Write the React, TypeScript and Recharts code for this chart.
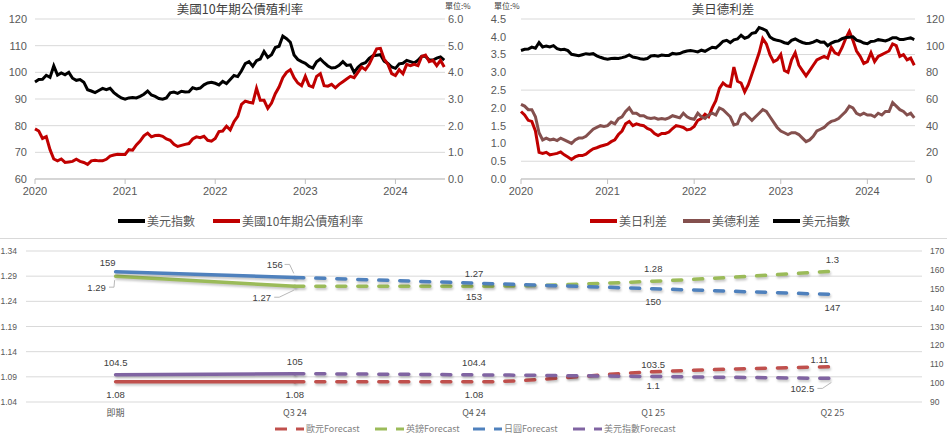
import React from "react";
import { LineChart, Line, XAxis, YAxis, CartesianGrid } from "recharts";

// half-month samples, Jan 2020 .. Jul 2024
const dxy = [
  96.4, 97.3, 97.4, 98.9, 98.1, 102.4, 99.0, 99.8, 99.1, 100.0, 97.8, 97.0, 97.3, 96.3, 93.5, 93.0, 92.4, 93.2, 94.0, 93.5, 94.0, 92.4, 91.3, 90.4,
  89.9, 90.4, 90.6, 90.4, 91.0, 91.8, 93.0, 91.5, 91.0, 90.2, 89.9, 90.4, 92.3, 92.6, 92.1, 92.9, 92.6, 92.7, 94.2, 93.8, 94.1, 95.3, 96.0, 96.3,
  95.9, 95.3, 96.6, 95.8, 97.3, 98.8, 98.4, 100.6, 103.3, 104.0, 102.3, 104.4, 105.0, 107.8, 105.6, 106.6, 109.3, 109.8, 113.6, 112.6, 111.3, 106.5, 104.8, 104.0,
  103.4, 102.2, 101.6, 104.0, 105.0, 103.6, 102.4, 101.6, 101.8, 102.6, 104.0, 102.6, 102.8, 100.0, 101.9, 103.1, 103.6, 105.2, 106.2, 106.4, 106.6, 104.2, 103.3, 102.0,
  101.5, 103.2, 103.4, 104.5, 104.0, 103.5, 104.5, 106.0, 106.0, 104.6, 104.6, 105.3, 105.8, 104.6,
];
const us10y = [
  1.88, 1.80, 1.52, 1.59, 1.10, 0.75, 0.68, 0.75, 0.62, 0.64, 0.66, 0.74, 0.66, 0.62, 0.55, 0.68, 0.70, 0.68, 0.68, 0.74, 0.86, 0.90, 0.93, 0.92,
  0.92, 1.10, 1.08, 1.28, 1.42, 1.62, 1.72, 1.58, 1.63, 1.64, 1.60, 1.50, 1.45, 1.30, 1.22, 1.26, 1.30, 1.33, 1.50, 1.58, 1.55, 1.60, 1.45, 1.42,
  1.52, 1.78, 1.80, 1.98, 1.84, 2.15, 2.35, 2.80, 2.92, 2.88, 2.85, 3.40, 2.95, 2.95, 2.65, 2.85, 3.20, 3.45, 3.80, 4.00, 4.10, 3.80, 3.60, 3.50,
  3.85, 3.50, 3.45, 3.85, 3.95, 3.50, 3.48, 3.55, 3.42, 3.55, 3.65, 3.75, 3.85, 3.80, 4.00, 4.20, 4.10, 4.30, 4.60, 4.88, 4.90, 4.50, 4.30, 3.95,
  3.88, 4.10, 3.95, 4.30, 4.25, 4.30, 4.25, 4.60, 4.65, 4.40, 4.45, 4.25, 4.45, 4.20,
];
const usJpSpread = [
  1.90, 1.80, 1.65, 1.62, 1.35, 0.75, 0.72, 0.75, 0.68, 0.70, 0.72, 0.76, 0.68, 0.62, 0.55, 0.62, 0.66, 0.66, 0.70, 0.78, 0.85, 0.88, 0.92, 0.95,
  0.98, 1.05, 1.10, 1.25, 1.35, 1.55, 1.62, 1.50, 1.55, 1.52, 1.50, 1.42, 1.38, 1.28, 1.22, 1.28, 1.28, 1.32, 1.42, 1.50, 1.48, 1.45, 1.38, 1.40,
  1.48, 1.65, 1.70, 1.82, 1.75, 2.00, 2.20, 2.55, 2.70, 2.62, 2.60, 3.15, 2.75, 2.70, 2.45, 2.65, 2.95, 3.25, 3.55, 3.95, 3.80, 3.50, 3.30, 3.35,
  3.50, 3.05, 3.00, 3.35, 3.55, 3.20, 3.05, 2.90, 3.05, 3.20, 3.35, 3.40, 3.45, 3.40, 3.70, 3.55, 3.50, 3.70, 3.95, 4.15, 3.90, 3.60, 3.45, 3.25,
  3.30, 3.55, 3.30, 3.45, 3.50, 3.55, 3.60, 3.80, 3.75, 3.45, 3.50, 3.35, 3.40, 3.20,
];
const usDeSpread = [
  2.10, 2.05, 1.95, 1.95, 1.75, 1.30, 1.10, 1.15, 1.10, 1.12, 1.08, 1.15, 1.10, 1.05, 1.00, 1.10, 1.15, 1.15, 1.20, 1.30, 1.40, 1.45, 1.50, 1.48,
  1.50, 1.60, 1.55, 1.70, 1.75, 1.90, 2.00, 1.85, 1.85, 1.78, 1.78, 1.72, 1.70, 1.72, 1.68, 1.70, 1.68, 1.72, 1.78, 1.75, 1.72, 1.85, 1.75, 1.70,
  1.68, 1.85, 1.75, 1.70, 1.80, 1.85, 1.80, 2.00, 1.95, 1.85, 1.75, 1.52, 1.55, 1.80, 1.85, 1.75, 1.65, 1.75, 1.85, 1.95, 1.90, 1.75, 1.60, 1.45,
  1.35, 1.30, 1.25, 1.30, 1.30, 1.25, 1.15, 1.05, 1.10, 1.20, 1.35, 1.40, 1.45, 1.55, 1.62, 1.65, 1.70, 1.80, 1.90, 2.05, 2.00, 1.85, 1.80, 1.85,
  1.80, 1.80, 1.75, 1.85, 1.80, 1.90, 1.90, 2.15, 2.05, 1.95, 1.90, 1.80, 1.85, 1.72,
];
const yearTicks = [0, 12, 24, 36, 48];
const yearLabels = ["2020", "2021", "2022", "2023", "2024"];

// forecast panel
const quarters = ["即期", "Q3 24", "Q4 24", "Q1 25", "Q2 25"];
const eur = [1.08, 1.08, 1.08, 1.1, 1.11];
const gbp = [1.29, 1.27, 1.27, 1.28, 1.3];
const jpy = [159, 156, 153, 150, 147];
const usdIdx = [104.5, 105, 104.4, 103.5, 102.5];
const leftTicks = [1.04, 1.09, 1.14, 1.19, 1.24, 1.29, 1.34];
const rightTicks = [90, 100, 110, 120, 130, 140, 150, 160, 170];

const daily = dxy.map((d, i) => ({ t: i / 2, dxy: d, us10y: us10y[i], usJp: usJpSpread[i], usDe: usDeSpread[i] }));
const fc = quarters.map((q, i) => ({
  x: i,
  eurA: i <= 1 ? eur[i] : null, eurF: i >= 1 ? eur[i] : null,
  gbpA: i <= 1 ? gbp[i] : null, gbpF: i >= 1 ? gbp[i] : null,
  jpyA: i <= 1 ? jpy[i] : null, jpyF: i >= 1 ? jpy[i] : null,
  usdA: i <= 1 ? usdIdx[i] : null, usdF: i >= 1 ? usdIdx[i] : null,
}));

const NUM = "'Liberation Sans', 'Noto Sans CJK TC', sans-serif";
const CJK = "'Noto Sans CJK TC', sans-serif";
const tickStyle = { fontSize: 11, fill: "#595959", fontFamily: NUM };
const smallTick = { fontSize: 8.5, fill: "#595959", fontFamily: NUM };

const C = { eur: "#C0504D", gbp: "#9BBB59", jpy: "#4F81BD", usd: "#8064A2" };

// label offsets [dx, dy] and leader flags per point
const lbl: Record<string, { vals: number[]; off: number[][]; lead: number[] }> = {
  eur: { vals: eur, off: [[0, 13], [0, 13], [0, 13], [0, 14], [-13, -7]], lead: [] },
  gbp: { vals: gbp, off: [[-19, 11], [-33, 11], [0, -13], [0, -13], [0, -12]], lead: [0, 1] },
  jpy: { vals: jpy, off: [[-8, -9], [-20, -13], [0, 13], [0, 13], [0, 13]], lead: [1] },
  usd: { vals: usdIdx, off: [[0, -12], [0, -12], [0, -12], [0, -12], [-30, 10]], lead: [4] },
};

function makeDot(key: string, from: number, to: number) {
  return (p: any) => {
    const { cx, cy, index } = p;
    const cfg = lbl[key];
    if (cx == null || cy == null || index < from || index > to) return <g key={`${key}-${index}`} />;
    const [dx, dy] = cfg.off[index];
    const text = String(cfg.vals[index]);
    const hw = text.length * 2.6;
    const lx = cx + dx;
    const ly = cy + dy;
    const lead = cfg.lead.includes(index);
    return (
      <g key={`${key}-${index}`}>
        {lead && (
          <polyline
            points={`${lx + hw + 2},${ly} ${lx + hw + 7},${ly} ${cx - 1},${cy + (dy > 0 ? 4 : -4)}`}
            fill="none"
            stroke="#a6a6a6"
            strokeWidth={0.8}
          />
        )}
        <text x={lx} y={ly} textAnchor="middle" dominantBaseline="central" fontSize={9.5} fill="#404040" fontFamily={NUM}>
          {text}
        </text>
      </g>
    );
  };
}

function LegendItem({ color, label, left }: { color: string; label: string; left: number }) {
  return (
    <span style={{ position: "absolute", left, top: 0, display: "inline-flex", alignItems: "center", whiteSpace: "nowrap" }}>
      <span style={{ display: "inline-block", width: 27, height: 4, background: color, marginRight: 2 }} />
      {label}
    </span>
  );
}

function DashItem({ color, label, left }: { color: string; label: string; left: number }) {
  return (
    <span style={{ position: "absolute", left, top: 0, display: "inline-flex", alignItems: "center", whiteSpace: "nowrap" }}>
      <svg width={29} height={6} style={{ marginRight: 2 }}>
        <line x1={0} y1={3} x2={12} y2={3} stroke={color} strokeWidth={3} />
        <line x1={21} y1={3} x2={29} y2={3} stroke={color} strokeWidth={3} />
      </svg>
      {label}
    </span>
  );
}

const titleStyle: React.CSSProperties = {
  position: "absolute", top: 1, textAlign: "center", fontFamily: CJK, fontSize: 12.5, lineHeight: "16px", color: "#404040", whiteSpace: "nowrap",
};
const unitStyle: React.CSSProperties = {
  position: "absolute", top: 1, fontFamily: CJK, fontSize: 8, lineHeight: "10px", color: "#404040", whiteSpace: "nowrap",
};
const legendRow: React.CSSProperties = {
  position: "absolute", left: 0, top: 213, width: "100%", height: 16, fontFamily: CJK, fontSize: 12, color: "#595959", lineHeight: "16px",
};

function UsYieldChart() {
  return (
    <div style={{ position: "absolute", left: 0, top: 0, width: 470, height: 234 }}>
      <div style={{ ...titleStyle, left: 0, width: 480 }}>美國10年期公債殖利率</div>
      <div style={{ ...unitStyle, left: 445 }}>單位:%</div>
      <LineChart width={470} height={234} data={daily} margin={{ top: 19, right: 0, bottom: 35, left: 5 }}>
        <CartesianGrid yAxisId="l" vertical={false} stroke="#d9d9d9" />
        <XAxis dataKey="t" type="number" domain={[0, 54.6]} ticks={yearTicks} tickFormatter={(v) => yearLabels[yearTicks.indexOf(v)]}
          tick={tickStyle} tickSize={5} tickMargin={3} stroke="#bfbfbf" height={20} />
        <YAxis yAxisId="l" domain={[60, 120]} ticks={[60, 70, 80, 90, 100, 110, 120]} width={30} tick={tickStyle} axisLine={false} tickLine={false} tickSize={0} tickMargin={8} />
        <YAxis yAxisId="r" orientation="right" domain={[0, 6]} ticks={[0, 1, 2, 3, 4, 5, 6]} tickFormatter={(v) => v.toFixed(1)} width={25}
          tick={tickStyle} axisLine={false} tickLine={false} tickSize={0} tickMargin={3} />
        <Line yAxisId="l" dataKey="dxy" stroke="#000000" strokeWidth={3} dot={false} isAnimationActive={false} />
        <Line yAxisId="r" dataKey="us10y" stroke="#C00000" strokeWidth={3} dot={false} isAnimationActive={false} />
      </LineChart>
      <div style={legendRow}>
        <LegendItem color="#000000" label="美元指數" left={118} />
        <LegendItem color="#C00000" label="美國10年期公債殖利率" left={213} />
      </div>
    </div>
  );
}

function SpreadChart() {
  return (
    <div style={{ position: "absolute", left: 480, top: 0, width: 467, height: 234 }}>
      <div style={{ ...titleStyle, left: 0, width: 486 }}>美日德利差</div>
      <div style={{ ...unitStyle, left: 14 }}>單位:%</div>
      <LineChart width={467} height={234} data={daily} margin={{ top: 19, right: 0, bottom: 35, left: 5 }}>
        <CartesianGrid yAxisId="l" vertical={false} stroke="#d9d9d9" />
        <XAxis dataKey="t" type="number" domain={[0, 54.6]} ticks={yearTicks} tickFormatter={(v) => yearLabels[yearTicks.indexOf(v)]}
          tick={tickStyle} tickSize={5} tickMargin={3} stroke="#bfbfbf" height={20} />
        <YAxis yAxisId="l" domain={[0, 4.5]} ticks={[0, 0.5, 1, 1.5, 2, 2.5, 3, 3.5, 4, 4.5]} tickFormatter={(v) => v.toFixed(1)} width={36}
          tick={tickStyle} axisLine={false} tickLine={false} tickSize={0} tickMargin={15} />
        <YAxis yAxisId="r" orientation="right" domain={[0, 120]} ticks={[0, 20, 40, 60, 80, 100, 120]} width={32}
          tick={tickStyle} axisLine={false} tickLine={false} tickSize={0} tickMargin={11} />
        <Line yAxisId="l" dataKey="usJp" stroke="#C00000" strokeWidth={3} dot={false} isAnimationActive={false} />
        <Line yAxisId="l" dataKey="usDe" stroke="#84504E" strokeWidth={3} dot={false} isAnimationActive={false} />
        <Line yAxisId="r" dataKey="dxy" stroke="#000000" strokeWidth={3} dot={false} isAnimationActive={false} />
      </LineChart>
      <div style={legendRow}>
        <LegendItem color="#C00000" label="美日利差" left={110} />
        <LegendItem color="#84504E" label="美德利差" left={203} />
        <LegendItem color="#000000" label="美元指數" left={293} />
      </div>
    </div>
  );
}

function ForecastChart() {
  const series: [keyof typeof C, string][] = [["eur", "l"], ["gbp", "l"], ["jpy", "r"], ["usd", "r"]];
  return (
    <div className="fc" style={{ position: "absolute", left: 0, top: 238, width: 947, height: 200, borderTop: "1px solid #d9d9d9" }}>
      <style>{`.fc .recharts-line-curve{filter:drop-shadow(1px 2px 1px rgba(0,0,0,0.22))}`}</style>
      <LineChart width={947} height={199} data={fc} margin={{ top: 12, right: 0, bottom: 16, left: 0 }}>
        <CartesianGrid yAxisId="l" vertical={false} stroke="#d9d9d9" />
        <XAxis dataKey="x" type="number" domain={[-0.5, 4.5]} ticks={[0, 1, 2, 3, 4]} tickFormatter={(v) => quarters[v]}
          tick={{ ...smallTick, fontSize: 9, fontFamily: CJK }} axisLine={false} tickLine={false} tickSize={0} tickMargin={8} height={20} />
        <YAxis yAxisId="l" domain={[1.04, 1.34]} ticks={leftTicks} tickFormatter={(v) => v.toFixed(2)} width={26}
          tick={smallTick} axisLine={false} tickLine={false} tickSize={0} tickMargin={9} />
        <YAxis yAxisId="r" orientation="right" domain={[90, 170]} ticks={rightTicks} width={25}
          tick={smallTick} axisLine={false} tickLine={false} tickSize={0} tickMargin={8} />
        {series.map(([k, ax]) => (
          <Line key={`${k}A`} yAxisId={ax} dataKey={`${k}A`} stroke={C[k]} strokeWidth={3.5} strokeLinecap="round"
            dot={makeDot(k, 0, 0)} activeDot={false} isAnimationActive={false} />
        ))}
        {series.map(([k, ax]) => (
          <Line key={`${k}F`} yAxisId={ax} type="monotone" dataKey={`${k}F`} stroke={C[k]} strokeWidth={3.5} strokeDasharray="9 12" strokeLinecap="round"
            dot={makeDot(k, 1, 4)} activeDot={false} isAnimationActive={false} />
        ))}
      </LineChart>
      <div style={{ position: "absolute", left: 0, width: 947, top: 184, height: 12, fontFamily: CJK, fontSize: 9, color: "#7f7f7f", lineHeight: "12px" }}>
        <DashItem color={C.eur} label="歐元Forecast" left={275} />
        <DashItem color={C.gbp} label="英鎊Forecast" left={375} />
        <DashItem color={C.jpy} label="日圓Forecast" left={473} />
        <DashItem color={C.usd} label="美元指數Forecast" left={573} />
      </div>
    </div>
  );
}

export default function App() {
  return (
    <div style={{ position: "absolute", left: 0, top: 0, width: 947, height: 438, background: "#ffffff", overflow: "hidden" }}>
      <UsYieldChart />
      <SpreadChart />
      <ForecastChart />
    </div>
  );
}
